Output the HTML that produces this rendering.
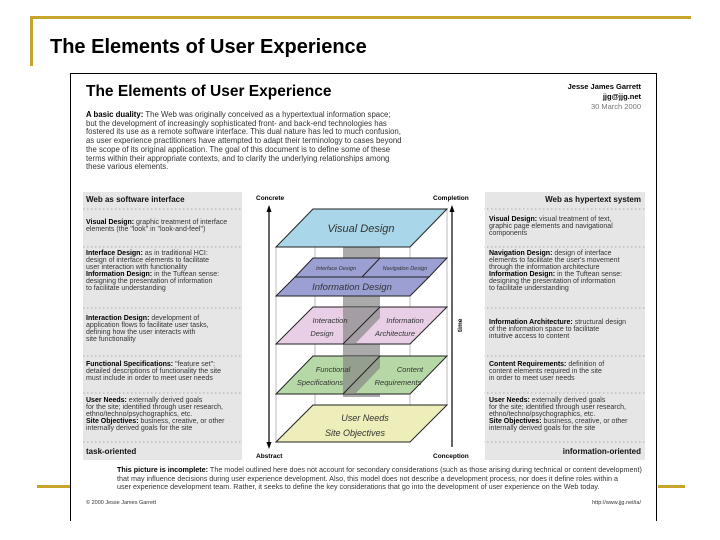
<!DOCTYPE html>
<html><head><meta charset="utf-8">
<style>
*{margin:0;padding:0;box-sizing:border-box}
body{width:720px;height:540px;background:#fff;position:relative;overflow:hidden;font-family:"Liberation Sans",sans-serif;color:#000}
.abs{position:absolute}
.gold{position:absolute;background:#c8a42a}
.small{font-size:7px;line-height:7px;color:#333;white-space:nowrap}
.small b{color:#000}
.panel{position:absolute;background:#e6e6e6}
.hdr{font-size:8px;font-weight:bold;color:#111}
</style></head><body>
<div class="gold" style="left:30px;top:16px;width:661px;height:3px"></div>
<div class="gold" style="left:30px;top:16px;width:3px;height:50px"></div>
<div class="gold" style="left:37px;top:485px;width:33px;height:3px"></div>
<div class="gold" style="left:658px;top:485px;width:27px;height:3px"></div>
<div class="abs" style="left:50px;top:36px;font-size:20px;font-weight:bold;">The Elements of User Experience</div>

<div class="abs" style="left:70px;top:73px;width:587px;height:448px;border:1px solid #000;border-bottom:none"></div>

<div class="abs" style="left:86px;top:83px;font-size:15.5px;font-weight:bold">The Elements of User Experience</div>
<div class="abs" style="left:540px;top:82px;width:101px;text-align:right;font-size:7.5px;font-weight:bold;line-height:10px">Jesse James Garrett<br>jjg@jjg.net<br><span style="color:#777;font-weight:normal">30 March 2000</span></div>
<div class="abs small" style="left:86px;top:111px;line-height:8.7px;font-size:7.8px"><b>A basic duality:</b> The Web was originally conceived as a hypertextual information space;<br>but the development of increasingly sophisticated front- and back-end technologies has<br>fostered its use as a remote software interface. This dual nature has led to much confusion,<br>as user experience practitioners have attempted to adapt their terminology to cases beyond<br>the scope of its original application. The goal of this document is to define some of these<br>terms within their appropriate contexts, and to clarify the underlying relationships among<br>these various elements.</div>

<div class="panel" style="left:83px;top:192px;width:159px;height:268px"></div>
<div class="panel" style="left:485px;top:192px;width:160px;height:268px"></div>
<div class="abs hdr" style="left:86px;top:195px">Web as software interface</div>
<div class="abs hdr" style="left:485px;top:195px;width:156px;text-align:right">Web as hypertext system</div>
<div class="abs hdr" style="left:86px;top:447px">task-oriented</div>
<div class="abs hdr" style="left:485px;top:447px;width:156px;text-align:right">information-oriented</div>

<div class="abs small" style="left:86px;top:219px"><b>Visual Design:</b> graphic treatment of interface<br>elements (the "look" in "look-and-feel")</div>
<div class="abs small" style="left:86px;top:250px"><b>Interface Design:</b> as in traditional HCI:<br>design of interface elements to facilitate<br>user interaction with functionality<br><b>Information Design:</b> in the Tuftean sense:<br>designing the presentation of information<br>to facilitate understanding</div>
<div class="abs small" style="left:86px;top:315px"><b>Interaction Design:</b> development of<br>application flows to facilitate user tasks,<br>defining how the user interacts with<br>site functionality</div>
<div class="abs small" style="left:86px;top:361px"><b>Functional Specifications:</b> "feature set":<br>detailed descriptions of functionality the site<br>must include in order to meet user needs</div>
<div class="abs small" style="left:86px;top:397px"><b>User Needs:</b> externally derived goals<br>for the site; identified through user research,<br>ethno/techno/psychographics, etc.<br><b>Site Objectives:</b> business, creative, or other<br>internally derived goals for the site</div>

<div class="abs small" style="left:489px;top:216px"><b>Visual Design:</b> visual treatment of text,<br>graphic page elements and navigational<br>components</div>
<div class="abs small" style="left:489px;top:250px"><b>Navigation Design:</b> design of interface<br>elements to facilitate the user's movement<br>through the information architecture<br><b>Information Design:</b> in the Tuftean sense:<br>designing the presentation of information<br>to facilitate understanding</div>
<div class="abs small" style="left:489px;top:319px"><b>Information Architecture:</b> structural design<br>of the information space to facilitate<br>intuitive access to content</div>
<div class="abs small" style="left:489px;top:361px"><b>Content Requirements:</b> definition of<br>content elements required in the site<br>in order to meet user needs</div>
<div class="abs small" style="left:489px;top:397px"><b>User Needs:</b> externally derived goals<br>for the site; identified through user research,<br>ethno/techno/psychographics, etc.<br><b>Site Objectives:</b> business, creative, or other<br>internally derived goals for the site</div>

<svg class="abs" style="left:0;top:0" width="720" height="540" font-family="Liberation Sans, sans-serif">
 <g stroke="#999" stroke-width="0.8" stroke-dasharray="1.5,2.5">
  <line x1="83" y1="209" x2="645" y2="209"/><line x1="83" y1="247" x2="645" y2="247"/>
  <line x1="83" y1="308" x2="645" y2="308"/><line x1="83" y1="356" x2="645" y2="356"/>
  <line x1="83" y1="393" x2="645" y2="393"/><line x1="83" y1="442" x2="645" y2="442"/>
 </g>
 <rect x="243" y="192" width="241" height="268" fill="#fff"/>
 <g stroke="#aaa" stroke-width="0.8">
  <line x1="276" y1="247" x2="276" y2="442"/><line x1="410" y1="247" x2="410" y2="442"/>
  <line x1="315" y1="247" x2="315" y2="405"/><line x1="447" y1="209" x2="447" y2="405"/>
 </g>
 <rect x="343" y="247" width="37" height="150" fill="#aaa"/>
 <polygon points="276,247 410,247 447,209 313,209" fill="#a9d6e8" stroke="#222" stroke-width="1"/>
 <text x="361" y="232" font-size="11" font-style="italic" text-anchor="middle" fill="#333">Visual Design</text>
 <polygon points="295,277 429,277 447,258 313,258" fill="#9b9fd2" stroke="#222" stroke-width="1"/>
 <line x1="362" y1="277" x2="380" y2="258" stroke="#222"/>
 <text x="336" y="270" font-size="5.5" font-style="italic" text-anchor="middle" fill="#333">Interface Design</text>
 <text x="405" y="270" font-size="5.5" font-style="italic" text-anchor="middle" fill="#333">Navigation Design</text>
 <polygon points="276,296 410,296 429,277 295,277" fill="#9b9fd2" stroke="#222" stroke-width="1"/>
 <text x="352" y="290" font-size="9.5" font-style="italic" text-anchor="middle" fill="#333">Information Design</text>
 <polygon points="276,344 410,344 447,307 313,307" fill="#e8cfe6" stroke="#222" stroke-width="1"/>
 <polygon points="343,344 355,344 380,318 380,307 343,307" fill="#888" opacity="0.7"/>
 <line x1="343" y1="344" x2="380" y2="307" stroke="#222"/>
 <text x="330" y="323" font-size="7.5" font-style="italic" text-anchor="middle" fill="#333">Interaction</text>
 <text x="322" y="336" font-size="7.5" font-style="italic" text-anchor="middle" fill="#333">Design</text>
 <text x="405" y="323" font-size="7.5" font-style="italic" text-anchor="middle" fill="#333">Information</text>
 <text x="395" y="336" font-size="7.5" font-style="italic" text-anchor="middle" fill="#333">Architecture</text>
 <polygon points="276,394 410,394 447,356 313,356" fill="#b6d8a6" stroke="#222" stroke-width="1"/>
 <polygon points="343,394 355,394 380,368 380,356 343,356" fill="#888" opacity="0.7"/>
 <line x1="343" y1="394" x2="380" y2="356" stroke="#222"/>
 <text x="333" y="372" font-size="7.5" font-style="italic" text-anchor="middle" fill="#333">Functional</text>
 <text x="320" y="385" font-size="7.5" font-style="italic" text-anchor="middle" fill="#333">Specifications</text>
 <text x="410" y="372" font-size="7.5" font-style="italic" text-anchor="middle" fill="#333">Content</text>
 <text x="398" y="385" font-size="7.5" font-style="italic" text-anchor="middle" fill="#333">Requirements</text>
 <polygon points="276,442 410,442 447,405 313,405" fill="#eeeebb" stroke="#222" stroke-width="1"/>
 <text x="365" y="421" font-size="9" font-style="italic" text-anchor="middle" fill="#333">User Needs</text>
 <text x="355" y="436" font-size="9" font-style="italic" text-anchor="middle" fill="#333">Site Objectives</text>
 <g stroke="#000" stroke-width="1.2">
  <line x1="269" y1="211" x2="269" y2="443"/><line x1="452" y1="211" x2="452" y2="447"/>
 </g>
 <polygon points="269,205 266.5,212 271.5,212" fill="#000"/>
 <polygon points="269,449 266.5,442 271.5,442" fill="#000"/>
 <polygon points="452,205 449.5,212 454.5,212" fill="#000"/>
 <text x="256" y="200" font-size="6.5" font-weight="bold">Concrete</text>
 <text x="433" y="200" font-size="6.5" font-weight="bold">Completion</text>
 <text x="256" y="458" font-size="6.5" font-weight="bold">Abstract</text>
 <text x="433" y="458" font-size="6.5" font-weight="bold">Conception</text>
 <text x="0" y="0" font-size="6.5" font-weight="bold" transform="translate(462,332) rotate(-90)">time</text>
</svg>

<div class="abs small" style="left:117px;top:466px;line-height:8.5px;font-size:7.2px"><b>This picture is incomplete:</b> The model outlined here does not account for secondary considerations (such as those arising during technical or content development)<br>that may influence decisions during user experience development. Also, this model does not describe a development process, nor does it define roles within a<br>user experience development team. Rather, it seeks to define the key considerations that go into the development of user experience on the Web today.</div>
<div class="abs small" style="left:86px;top:500px;font-size:5.5px">© 2000 Jesse James Garrett</div>
<div class="abs small" style="left:560px;top:500px;width:81px;text-align:right;font-size:5.5px">http://www.jjg.net/ia/</div>
</body></html>
